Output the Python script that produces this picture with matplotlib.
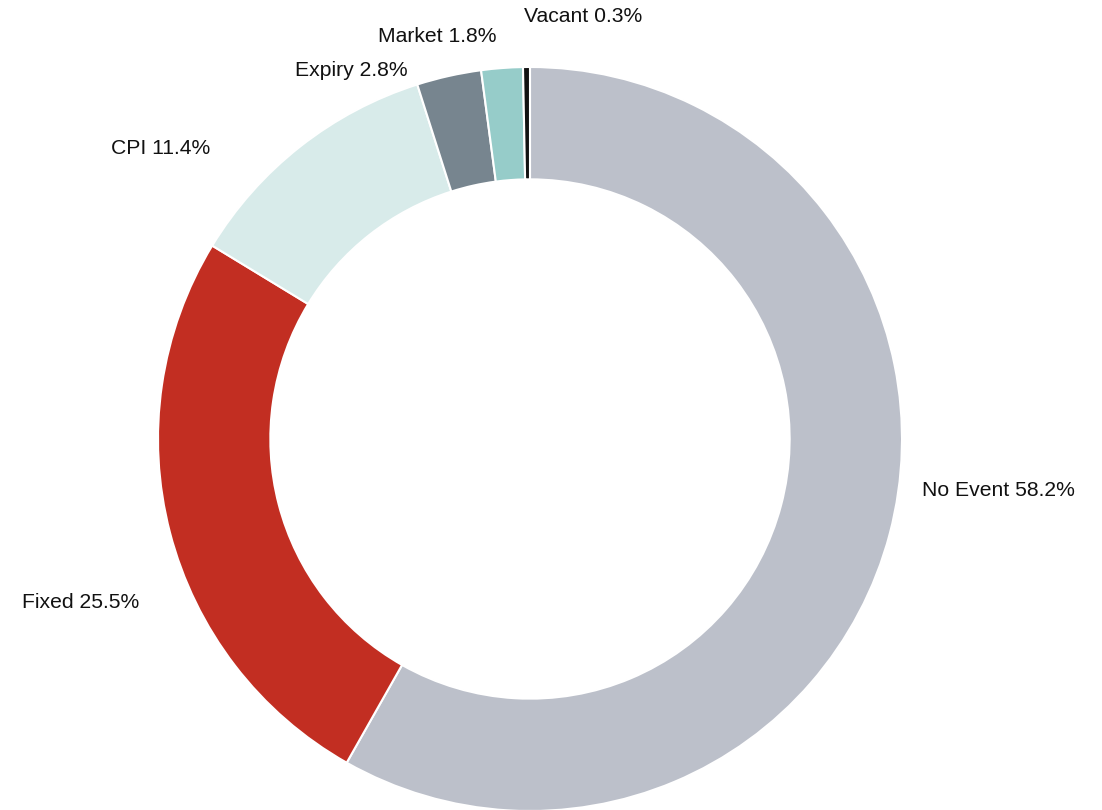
import matplotlib
matplotlib.use("Agg")
import matplotlib.pyplot as plt

categories = ["No Event", "Fixed", "CPI", "Expiry", "Market", "Vacant"]
values = [58.2, 25.5, 11.4, 2.8, 1.8, 0.3]
colors = ["#BCC0CA", "#C22E22", "#D8EBEA", "#77858F", "#96CCC9", "#111111"]

# label anchor positions in figure pixels (x, y from top) and alignment
label_pos = [(922, 490, "left"), (139, 603, "right"), (210, 148, "right"),
             (408, 70, "right"), (497, 36, "right"), (524, 17, "left")]

W, H = 1102, 810
fig = plt.figure(figsize=(W / 100, H / 100), dpi=100)
ax = fig.add_axes([0, 0, 1, 1])
ax.set_xlim(0, W)
ax.set_ylim(0, H)
ax.set_aspect("equal")
ax.axis("off")

cx, cy, R = 530, H - 439, 372
ax.pie(values, colors=colors, startangle=90, counterclock=False,
       center=(cx, cy), radius=R, frame=True,
       wedgeprops=dict(width=R * 0.302, edgecolor="white", linewidth=1.5))
ax.set_xlim(0, W)
ax.set_ylim(0, H)
ax.axis("off")

for cat, v, (px, py, ha) in zip(categories, values, label_pos):
    ax.text(px, H - py, f"{cat} {v:.1f}%", ha=ha, va="center",
            fontsize=15.2, family="Liberation Sans", color="#111111")

fig.savefig("out.png", dpi=100)
